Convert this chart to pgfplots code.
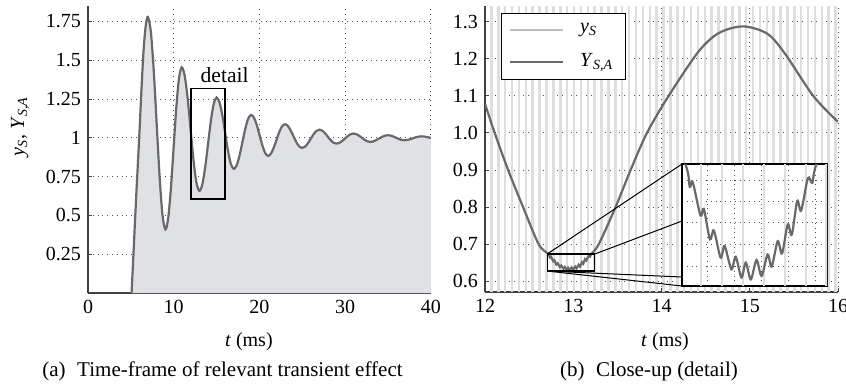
\documentclass[border=0pt]{standalone}
\usepackage{fontspec}
\setmainfont{Liberation Serif}
\usepackage{pgfplots}
\usepackage{pgfplotstable}
\pgfplotsset{compat=1.18}

\definecolor{fillc}{RGB}{224,225,228}
\definecolor{curvec}{RGB}{105,105,105}
\definecolor{barc}{RGB}{222,222,222}
\definecolor{gridc}{RGB}{80,80,80}

\pgfplotstableread{
t y
5.08 0
5.3 0.25
5.6 0.6
5.97 1.0
6.25 1.33
6.5 1.58
6.75 1.73
6.98 1.78
7.322 1.688
7.663 1.4375
8.005 1.095
8.347 0.7525
8.688 0.502
9.03 0.41
9.347 0.480
9.663 0.671
9.98 0.9325
10.297 1.194
10.613 1.385
10.93 1.455
11.273 1.4016
11.617 1.2558
11.96 1.0565
12.303 0.8573
12.647 0.7114
12.99 0.658
13.325 0.698
13.66 0.8085
13.995 0.959
14.33 1.1095
14.665 1.2197
15.0 1.26
15.333 1.229
15.667 1.145
16.0 1.03
16.333 0.915
16.667 0.831
17.0 0.80
17.338 0.823
17.677 0.887
18.015 0.974
18.353 1.061
18.692 1.125
19.03 1.148
19.358 1.130
19.687 1.082
20.015 1.016
20.343 0.950
20.672 0.902
21.0 0.884
21.325 0.898
21.65 0.935
21.975 0.986
22.3 1.037
22.625 1.074
22.95 1.088
23.285 1.078
23.62 1.050
23.955 1.0115
24.29 0.973
24.625 0.945
24.96 0.935
25.297 0.943
25.633 0.9645
25.97 0.994
26.307 1.0235
26.643 1.045
26.98 1.053
27.308 1.047
27.637 1.0305
27.965 1.008
28.293 0.9855
28.622 0.969
28.95 0.963
29.287 0.967
29.623 0.979
29.96 0.9955
30.297 1.012
30.633 1.024
30.97 1.028
31.292 1.024
31.613 1.0145
31.935 1.001
32.257 0.9875
32.578 0.978
32.9 0.974
33.243 0.977
33.587 0.985
33.93 0.9955
34.273 1.006
34.617 1.014
34.96 1.017
35.283 1.015
35.607 1.009
35.93 1.001
36.253 0.993
36.577 0.987
36.9 0.985
37.233 0.9867
37.567 0.991
37.9 0.9975
38.233 1.004
38.567 1.008
38.9 1.010
39.3 1.008
39.7 1.003
40.0 1.0
}\leftdata

\pgfplotstableread{
t y
12.0 1.079
12.11 1.0
12.262 0.9
12.431 0.8
12.607 0.7
12.7175 0.673
12.7337 0.6644
12.745 0.6661
12.7736 0.6536
12.7861 0.6561
12.8086 0.6446
12.8236 0.6479
12.8485 0.6377
12.8635 0.6421
12.8885 0.6333
12.9047 0.6380
12.9259 0.6302
12.9421 0.6358
12.9608 0.6295
12.9820 0.6368
13.0008 0.6308
13.0232 0.6389
13.0382 0.6343
13.0607 0.6439
13.0769 0.6393
13.0981 0.6502
13.1131 0.6464
13.1331 0.6590
13.1480 0.6555
13.1730 0.6677
13.1892 0.6659
13.2042 0.673
13.29 0.7
13.48 0.8
13.65 0.9
13.835 1.0
14.08 1.1
14.42 1.22
14.65 1.27
14.925 1.288
15.2 1.268
15.40 1.214
15.72 1.1
16.0 1.03
}\rightdata

\pgfplotstableread{
t y
12.073 2
12.151 2
12.229 2
12.307 2
12.385 2
12.463 2
12.541 2
12.619 2
12.697 2
12.775 2
12.853 2
12.931 2
13.009 2
13.087 2
13.165 2
13.243 2
13.321 2
13.399 2
13.477 2
13.555 2
13.633 2
13.711 2
13.789 2
13.867 2
13.945 2
14.023 2
14.101 2
14.179 2
14.257 2
14.335 2
14.413 2
14.491 2
14.569 2
14.647 2
14.725 2
14.803 2
14.881 2
14.959 2
15.037 2
15.115 2
15.193 2
15.271 2
15.349 2
15.427 2
15.505 2
15.583 2
15.661 2
15.739 2
15.817 2
15.895 2
15.973 2
}\bars

\begin{document}
\begin{tikzpicture}
\path[use as bounding box] (0pt,0pt) rectangle (423pt,-194pt);
\pgfplotsset{
 base/.style={
  scale only axis,
  axis x line*=bottom, axis y line*=left,
  axis line style={-, black!75, line width=0.6pt},
  tick align=inside, major tick length=2pt, tick style={black!75, line width=0.5pt},
  grid=major, major grid style={dotted, gridc, line width=0.5pt},
  /pgf/number format/assume math mode=true,
  tick label style={font=\normalsize},
  scaled ticks=false,
 }
}
\begin{axis}[base, at={(44pt,-146.5pt)}, anchor=south west, width=171.5pt, height=143.5pt,
 xmin=0,xmax=40,ymin=0,ymax=1.85,
 xtick={0,10,20,30,40}, ytick={0.25,0.5,0.75,1,1.25,1.5,1.75},
 xlabel={\textit{t}\ (ms)}, xlabel style={at={(axis description cs:0.469,-0.1847)}, anchor=base},
 ylabel={\textit{y}\textsubscript{\textit{S}}, \textit{Y}\textsubscript{\textit{S,A}}},
 ylabel style={at={(axis description cs:-0.198,0.58)}, anchor=center},
]
\addplot[draw=none, fill=fillc] table[x=t,y=y]{\leftdata} \closedcycle;
\addplot[curvec, line width=1.1pt, smooth] table[x=t,y=y]{\leftdata};
\draw[black, line width=0.7pt] (axis cs:12,0.607) rectangle (axis cs:16,1.317);
\node[anchor=base, inner sep=0pt, font=\fontsize{10.8}{12}\selectfont] at (axis cs:15.94,1.356) {detail};
\end{axis}

\begin{axis}[base, at={(242.5pt,-146pt)}, anchor=south west, width=176.5pt, height=143pt,
 xmin=12,xmax=16,ymin=0.5704,ymax=1.343,
 xtick={12,13,14,15,16}, ytick={0.6,0.7,0.8,0.9,1.0,1.1,1.2,1.3},
 xlabel={\textit{t}\ (ms)}, xlabel style={at={(axis description cs:0.51,-0.189)}, anchor=base},
 legend style={at={(axis description cs:0.0453,0.9755)}, anchor=north west, draw=black, line width=0.6pt, fill=white, inner xsep=4pt, inner ysep=3pt, row sep=5pt, font=\normalsize},
 legend cell align=left,
 yticklabel style={/pgf/number format/fixed, /pgf/number format/fixed zerofill, /pgf/number format/precision=1},
]
\addplot[ycomb, barc, line width=1.25pt, mark=none, legend image code/.code={\draw[barc!85!black, line width=0.8pt] (0pt,0pt) -- (26.5pt,0pt);}] table[x=t,y=y]{\bars};
\addlegendentry{\hspace{6pt}\textit{y}\textsubscript{\textit{S}}}
\addplot[curvec, line width=1.1pt, smooth, legend image code/.code={\draw[curvec, line width=0.8pt] (0pt,0pt) -- (26.5pt,0pt);}] table[x=t,y=y]{\rightdata};
\addlegendentry{\hspace{6pt}\textit{Y}\textsubscript{\textit{S,A}}}
\draw[black, line width=0.6pt] (axis cs:12.705,0.627) rectangle (axis cs:13.244,0.673);
\coordinate (rTL) at (axis cs:12.705,0.673);
\coordinate (rTR) at (axis cs:13.244,0.673);
\coordinate (rBL) at (axis cs:12.705,0.627);
\end{axis}

\draw[black, line width=0.5pt] (rTL) -- (341pt,-82pt);
\draw[black, line width=0.5pt] (rTR) -- (341pt,-110.5pt);
\draw[black, line width=0.5pt] (rBL) -- (341pt,-138.5pt);
\draw[black, line width=0.5pt] (rBL) -- (341pt,-143pt);

\begin{axis}[at={(341pt,-82pt)}, anchor=north west, scale only axis, width=72.5pt, height=61pt,
 xmin=12.705, xmax=13.244, ymin=0.627, ymax=0.673,
 xtick={12.8,12.9,13.0,13.1,13.2}, ytick={0.6345,0.6427,0.6508,0.6587,0.6667},
 xticklabels={}, yticklabels={}, major tick length=0pt,
 grid=major, major grid style={dotted, gridc, line width=0.5pt},
 axis background/.style={fill=white}, axis line style={black, line width=0.9pt}]
\addplot[ycomb, barc, line width=1.25pt, mark=none] table[x=t,y=y]{\bars};
\addplot[curvec, line width=1.1pt, smooth] table[x=t,y=y]{\rightdata};
\end{axis}

\node[anchor=base, font=\fontsize{10.5}{12}\selectfont] at (111.25pt,-188pt) {(a)\hspace{0.55em}Time-frame of relevant transient effect};
\node[anchor=base, font=\fontsize{10.5}{12}\selectfont] at (324.5pt,-188pt) {(b)\hspace{0.55em}Close-up (detail)};
\end{tikzpicture}
\end{document}
